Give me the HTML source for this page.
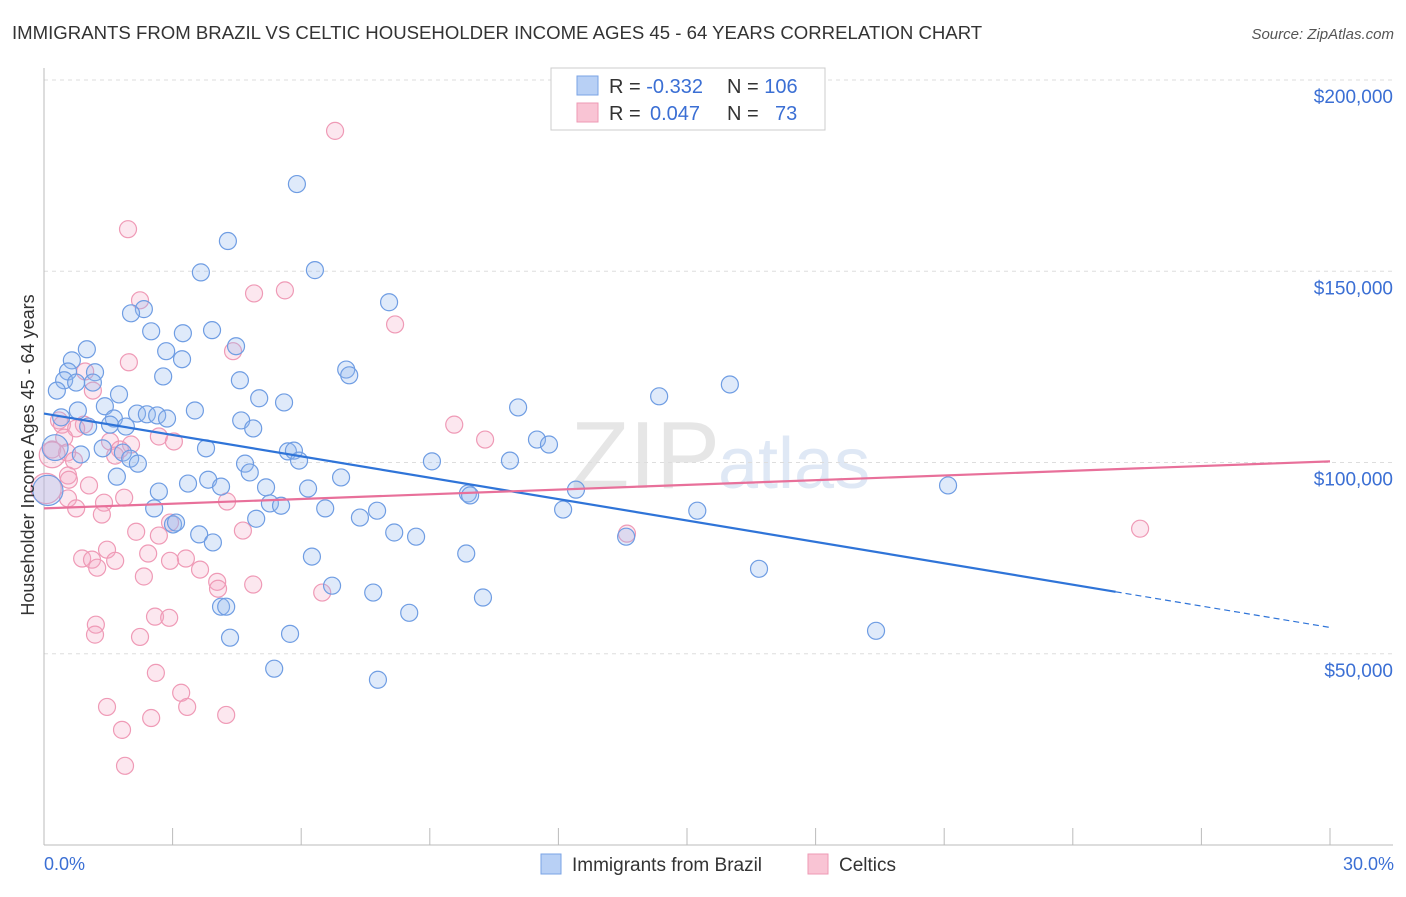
<!DOCTYPE html>
<html><head><meta charset="utf-8"><style>
body{margin:0;background:#fff;font-family:"Liberation Sans",sans-serif;}
svg text{font-family:"Liberation Sans",sans-serif;}
</style></head><body>
<svg id="chart" width="1406" height="892" xmlns="http://www.w3.org/2000/svg">
<text x="12" y="39" font-size="18.6" fill="#333">IMMIGRANTS FROM BRAZIL VS CELTIC HOUSEHOLDER INCOME AGES 45 - 64 YEARS CORRELATION CHART</text>
<text x="1394" y="39" font-size="15" fill="#555" font-style="italic" text-anchor="end">Source: ZipAtlas.com</text>
<text x="720" y="488" font-size="96" fill="#e6e6e6" text-anchor="end" font-family="Liberation Serif">ZIP</text>
<text x="718" y="488" font-size="72" fill="#dfe8f5">atlas</text>
<g id="grid"></g>
<g id="axes"></g>
<g id="pts"></g>
<g id="lines"></g>
<text transform="translate(34,455) rotate(-90)" font-size="18" fill="#333" text-anchor="middle">Householder Income Ages 45 - 64 years</text>
<text x="44" y="870" font-size="18" fill="#3b6fd4">0.0%</text>
<text x="1394" y="870" font-size="18" fill="#3b6fd4" text-anchor="end">30.0%</text>
<g>
<rect x="551" y="68" width="274" height="62" fill="#fff" stroke="#ccc"/>
<rect x="577" y="76" width="21" height="19" fill="#b8d0f5" stroke="#7aa3e5"/>
<rect x="577" y="103" width="21" height="19" fill="#f9c4d4" stroke="#ee9ab4"/>
<text x="609" y="93" font-size="20" fill="#333">R = <tspan fill="#3b6fd4">-0.332</tspan><tspan x="727">N = </tspan><tspan fill="#3b6fd4">106</tspan></text>
<text x="609" y="120" font-size="20" fill="#333">R = <tspan fill="#3b6fd4" x="650">0.047</tspan><tspan x="727">N = </tspan><tspan fill="#3b6fd4" x="775">73</tspan></text>
</g>
<g>
<rect x="541" y="854" width="20" height="20" fill="#b8d0f5" stroke="#7aa3e5"/>
<text x="572" y="871" font-size="19" fill="#333">Immigrants from Brazil</text>
<rect x="808" y="854" width="20" height="20" fill="#f9c4d4" stroke="#ee9ab4"/>
<text x="839" y="871" font-size="19" fill="#333">Celtics</text>
</g>
</svg>
<script>
const yTicks=[50000,100000,150000,200000];
const yTickLabels=["$50,000","$100,000","$150,000","$200,000"];
const xTicks=[0,3,6,9,12,15,18,21,24,27,30];
const brazilX=[5.90,4.29,6.32,3.66,8.05,2.33,2.03,2.50,3.92,3.24,4.48,1.00,2.85,3.22,0.65,7.05,0.56,1.19,7.12,2.78,0.47,0.75,4.57,1.14,16.0,0.30,1.75,14.35,5.02,5.60,11.06,1.42,0.79,3.52,2.17,2.40,2.64,2.87,0.40,4.60,1.63,1.54,4.88,1.91,1.03,11.50,11.78,1.37,0.86,1.84,3.78,5.69,5.83,2.01,2.19,5.95,4.69,9.05,10.87,4.80,1.70,6.93,3.83,3.36,4.13,5.18,6.16,2.68,12.41,9.89,9.94,21.09,5.27,5.53,2.57,6.56,7.77,12.11,15.24,7.37,4.95,3.01,3.08,3.62,8.17,8.68,13.58,3.94,6.25,9.85,16.68,6.72,7.68,10.24,8.52,4.13,4.25,4.34,5.74,19.41,5.37,7.79,0.09,0.26];
const brazilY=[172.8,157.9,150.3,149.7,141.9,140.1,139.0,134.3,134.6,133.8,130.4,129.6,129.1,127.0,126.7,124.3,123.8,123.6,122.8,122.5,121.5,120.9,121.5,120.9,120.4,118.8,117.8,117.3,116.8,115.7,114.4,114.7,113.6,113.6,112.8,112.6,112.3,111.5,111.8,111.0,111.5,109.9,108.9,109.4,109.4,106.0,104.7,103.7,102.1,102.6,103.7,102.9,103.1,101.0,99.7,100.5,99.7,100.3,100.5,97.4,96.3,96.1,95.5,94.5,93.7,93.5,93.2,92.4,92.9,91.9,91.4,94.0,89.3,88.7,88.0,88.0,87.4,87.7,87.4,85.6,85.3,83.8,84.3,81.2,81.7,80.6,80.6,79.1,75.4,76.2,72.2,67.8,66.0,64.7,60.7,62.3,62.3,54.2,55.2,56.0,46.1,43.2,92.7,103.9];
const brazilR=[0,0,0,0,0,0,0,0,0,0,0,0,0,0,0,0,0,0,0,0,0,0,0,0,0,0,0,0,0,0,0,0,0,0,0,0,0,0,0,0,0,0,0,0,0,0,0,0,0,0,0,0,0,0,0,0,0,0,0,0,0,0,0,0,0,0,0,0,0,0,0,0,0,0,0,0,0,0,0,0,0,0,0,0,0,0,0,0,0,0,0,0,0,0,0,0,0,0,0,0,0,0,3,2];
const celticX=[6.79,1.96,2.24,5.62,4.90,8.19,4.41,1.98,0.96,1.14,0.35,0.42,0.93,9.57,0.75,2.68,0.47,10.29,3.03,2.03,1.54,1.77,0.19,0.54,1.66,0.70,0.56,0.58,1.05,1.87,0.56,1.40,0.75,4.27,1.35,2.94,4.64,2.15,13.60,25.57,2.68,1.47,2.43,0.89,1.12,1.66,3.31,2.94,1.24,3.64,2.33,4.04,4.06,4.88,6.49,2.59,2.92,1.21,1.19,2.24,2.61,3.20,1.47,3.34,2.50,4.25,1.82,1.89,0.05,0.19];
const celticY=[186.7,161.0,142.4,145.0,144.2,136.1,129.1,126.2,123.8,118.8,111.0,109.9,109.9,109.9,108.9,106.8,106.5,106.0,105.5,104.7,105.5,103.4,103.4,102.6,101.8,100.5,96.6,95.5,94.0,90.8,90.6,89.5,88.0,89.8,86.4,84.3,82.2,81.9,81.4,82.7,80.9,77.2,76.2,74.9,74.6,74.3,74.9,74.3,72.5,72.0,70.2,68.8,67.0,68.1,66.0,59.7,59.4,57.6,55.0,54.4,45.0,39.8,36.1,36.1,33.2,34.0,30.1,20.7,93.2,102.0];
const celticR=[0,0,0,0,0,0,0,0,0,0,0,0,0,0,0,0,0,0,0,0,0,0,0,0,0,0,0,0,0,0,0,0,0,0,0,0,0,0,0,0,0,0,0,0,0,0,0,0,0,0,0,0,0,0,0,0,0,0,0,0,0,0,0,0,0,0,0,0,3,2];
const brazilTrend=[112.8,-1.864];
const celticTrend=[88.0,0.41];
const NS="http://www.w3.org/2000/svg";
const xs=v=>44+v/30*1286;
const ys=v=>845-v/200000*765;
function mk(tag,attrs,parent){const e=document.createElementNS(NS,tag);for(const k in attrs)e.setAttribute(k,attrs[k]);document.getElementById(parent).appendChild(e);return e;}
mk('line',{x1:44,x2:1393,y1:80,y2:80,stroke:'#ddd','stroke-dasharray':'4,4'},'grid');
yTicks.forEach((t,i)=>{
 const l=mk('line',{x1:44,x2:1393,y1:ys(t),y2:ys(t),stroke:'#ddd','stroke-dasharray':'4,4'},'grid');
 
 
 const tx=mk('text',{x:1393,y:ys(t)+23,'font-size':19,fill:'#3b6fd4','text-anchor':'end'},'grid');
 tx.textContent=yTickLabels[i];
 
 
});
mk('line',{x1:44,x2:44,y1:68,y2:845,stroke:'#bbb'},'axes');
mk('line',{x1:44,x2:1393,y1:845,y2:845,stroke:'#bbb'},'axes');
xTicks.forEach(t=>{
 const l=mk('line',{x1:xs(t),x2:xs(t),y1:828,y2:845,stroke:'#bbb'},'axes');
 
 
});
function pts(X,Y,R,fill,stroke,name){
 X.forEach((x,i)=>{
  const r=8.5+(R[i]||0)*2.2;
  const c=mk('circle',{cx:xs(x),cy:ys(Y[i]*1000),r:r,fill:fill,stroke:stroke,'stroke-width':1.2},'pts');
  
  
 });
}
pts(celticX,celticY,celticR,'rgba(246,170,196,0.28)','#ef9ab6','celtics-point');
pts(brazilX,brazilY,brazilR,'rgba(150,185,240,0.3)','#6f9de3','brazil-point');
const f=(tr,x)=>(tr[0]+tr[1]*x)*1000;
let l=mk('line',{x1:xs(0),y1:ys(f(brazilTrend,0)),x2:xs(25),y2:ys(f(brazilTrend,25)),stroke:'#2f74d8','stroke-width':2.2},'lines');


l=mk('line',{x1:xs(25),y1:ys(f(brazilTrend,25)),x2:xs(30),y2:ys(f(brazilTrend,30)),stroke:'#2f74d8','stroke-width':1.2,'stroke-dasharray':'6,4'},'lines');


l=mk('line',{x1:xs(0),y1:ys(f(celticTrend,0)),x2:xs(30),y2:ys(f(celticTrend,30)),stroke:'#e8709a','stroke-width':2.2},'lines');


</script>
</body></html>
